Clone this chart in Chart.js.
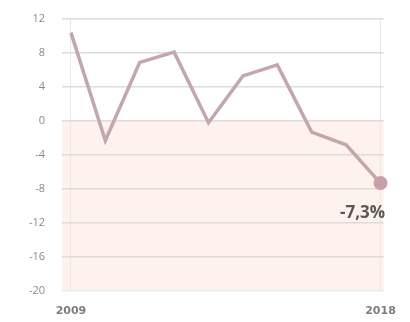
<!DOCTYPE html>
<html>
<head>
<meta charset="utf-8">
<script src="https://cdn.jsdelivr.net/npm/chart.js@4"></script>
<style>
  html, body { margin: 0; padding: 0; background: #ffffff; }
  #wrap { width: 410px; height: 322px; position: relative; }
</style>
</head>
<body>
<div id="wrap"><canvas id="growth-chart"></canvas></div>
<script>
// Year-on-year change, %
const years = [2009, 2010, 2011, 2012, 2013, 2014, 2015, 2016, 2017, 2018];
const values = [10.4, -2.3, 6.9, 8.1, -0.2, 5.3, 6.6, -1.3, -2.8, -7.3];
const xTickYears = [2009, 2018];
const yTicks = [12, 8, 4, 0, -4, -8, -12, -16, -20];
const lastLabel = '-7,3%';

const LINE_COLOR = '#c3a7ac';
const DOT_COLOR = '#c99fa9';
const NEG_FILL = '#fdf2ec';

// Peach band below the zero line
const negativeBand = {
    id: 'negativeBand',
    beforeDraw(chart) {
        const { ctx, chartArea, scales } = chart;
        const y0 = scales.y.getPixelForValue(0);
        ctx.save();
        ctx.fillStyle = NEG_FILL;
        ctx.fillRect(chartArea.left, y0, chartArea.right - chartArea.left, chartArea.bottom - y0);
        ctx.restore();
    }
};

// Value label under the last point
const lastValueLabel = {
    id: 'lastValueLabel',
    afterDatasetsDraw(chart) {
        const { ctx, scales } = chart;
        const i = values.length - 1;
        const x = scales.x.getPixelForValue(years[i]);
        const y = scales.y.getPixelForValue(values[i]);
        ctx.save();
        ctx.font = 'bold 17px "Open Sans", sans-serif';
        ctx.fillStyle = '#585858';
        ctx.textAlign = 'center';
        ctx.textBaseline = 'middle';
        ctx.fillText(lastLabel, x - 18, y + 30);
        ctx.restore();
    }
};

new Chart(document.getElementById('growth-chart'), {
    type: 'line',
    data: {
        datasets: [{
            data: years.map((yr, i) => ({ x: yr, y: values[i] })),
            borderColor: LINE_COLOR,
            borderWidth: 3.5,
            tension: 0,
            pointRadius: values.map((v, i) => i === values.length - 1 ? 7 : 0),
            pointBackgroundColor: DOT_COLOR,
            pointBorderWidth: 0,
            clip: false
        }]
    },
    options: {
        responsive: true,
        maintainAspectRatio: false,
        animation: false,
        layout: { padding: { top: 0, right: 22, bottom: 0, left: 0 } },
        scales: {
            x: {
                type: 'linear',
                min: 2008.74,
                max: 2018.09,
                afterBuildTicks: axis => { axis.ticks = xTickYears.map(v => ({ value: v })); },
                afterFit: scale => { scale.height = 31; },
                ticks: {
                    padding: 14,
                    color: '#7e7e7e',
                    font: { family: '"DejaVu Sans", sans-serif', size: 11, weight: '600' },
                    callback: v => String(v)
                },
                grid: { color: '#efe6e3', lineWidth: 1, drawTicks: false },
                border: { display: false }
            },
            y: {
                min: -20,
                max: 12,
                afterBuildTicks: axis => { axis.ticks = yTicks.map(v => ({ value: v })); },
                afterFit: scale => {
                    scale.width = 62;
                    scale.paddingTop = 19;   // tick padding would otherwise push the top down
                    scale.paddingBottom = 0;
                },
                ticks: {
                    padding: 17,
                    color: '#8a8a8a',
                    font: { family: '"Open Sans", sans-serif', size: 11 }
                },
                grid: {
                    color: ctx => ctx.tick && ctx.tick.value === -20 ? '#ececec' : '#dcdcdc',
                    lineWidth: 1.5,
                    drawTicks: false
                },
                border: { display: false }
            }
        },
        plugins: {
            legend: { display: false },
            tooltip: { enabled: false }
        }
    },
    plugins: [negativeBand, lastValueLabel]
});
</script>
</body>
</html>
